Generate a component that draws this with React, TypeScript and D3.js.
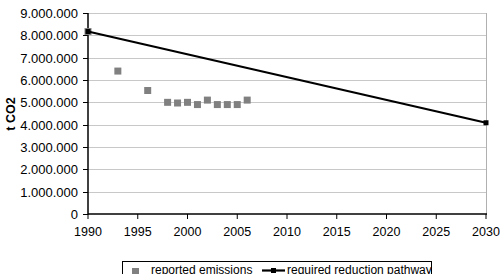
import React from 'react';
import * as d3 from 'd3';

// reported emissions (t CO2)
const reportedYears = [1990, 1993, 1996, 1998, 1999, 2000, 2001, 2002, 2003, 2004, 2005, 2006];
const reportedValues = [8170000, 6400000, 5530000, 5000000, 4970000, 5000000, 4900000, 5100000, 4900000, 4900000, 4900000, 5100000];

// required reduction pathway
const pathwayYears = [1990, 2030];
const pathwayValues = [8170000, 4085000];

const xTicks = [1990, 1995, 2000, 2005, 2010, 2015, 2020, 2025, 2030];
const yTicks = [0, 1000000, 2000000, 3000000, 4000000, 5000000, 6000000, 7000000, 8000000, 9000000];

const legendLabels = ['reported emissions', 'required reduction pathway'];

const fmt = (v: number) => d3.format(',')(v).replace(/,/g, '.');

export default function App() {
  const W = 500, H = 274;
  const left = 88, right = 486, top = 13, bottom = 214;

  const x = d3.scaleLinear().domain([1990, 2030]).range([left, right]);
  const y = d3.scaleLinear().domain([0, 9000000]).range([bottom, top]);

  const line = d3.line<number>()
    .x((_, i) => x(pathwayYears[i]))
    .y(d => y(d));

  const font = 'Liberation Sans, Arial, sans-serif';

  return (
    <svg width={W} height={H} style={{ position: 'absolute', left: 0, top: 0 }} fontFamily={font}>
      <rect x={0} y={0} width={W} height={H} fill="#fff" />
      {/* gridlines */}
      {yTicks.slice(1).map(t => (
        <line key={t} x1={left} x2={right} y1={Math.round(y(t)) + 0.5} y2={Math.round(y(t)) + 0.5} stroke="#c8c8c8" strokeWidth={1} />
      ))}
      {/* right border */}
      <line x1={right + 0.5} x2={right + 0.5} y1={top} y2={bottom} stroke="#b0b0b0" strokeWidth={1} />

      {/* y axis */}
      <line x1={left} x2={left} y1={top} y2={bottom + 0.5} stroke="#000" strokeWidth={1.5} />
      {yTicks.map(t => (
        <g key={t} transform={`translate(0, ${Math.round(y(t)) + 0.5})`}>
          <line x1={left - 5} x2={left} stroke="#000" strokeWidth={1} />
          <text x={78} dy="0.35em" textAnchor="end" fontSize={13} fill="#000">{fmt(t)}</text>
        </g>
      ))}
      <text transform={`translate(14.5, ${(top + bottom) / 2 + 0.5}) rotate(-90)`} textAnchor="middle" fontSize={12.5} fontWeight="bold" fill="#000">t CO2</text>

      {/* x axis */}
      <line x1={left} x2={right + 1} y1={bottom} y2={bottom} stroke="#000" strokeWidth={1.5} />
      {xTicks.map(t => (
        <g key={t} transform={`translate(${x(t)}, 0)`}>
          <line y1={bottom} y2={bottom + 5} stroke="#000" strokeWidth={1} />
          <text y={bottom + 22} textAnchor="middle" fontSize={12.5} fill="#000">{t}</text>
        </g>
      ))}

      {/* reported emissions */}
      {reportedYears.map((yr, i) => (
        <rect key={yr} x={x(yr) - 3.5} y={y(reportedValues[i]) - 3.5} width={7} height={7} fill="#808080" />
      ))}

      {/* pathway */}
      <path d={line(pathwayValues) || ''} fill="none" stroke="#000" strokeWidth={2.2} />
      {pathwayYears.map((yr, i) => (
        <rect key={yr} x={x(yr) - 2.5} y={y(pathwayValues[i]) - 2.5} width={5} height={5} fill="#000" />
      ))}

      {/* legend */}
      <rect x={122.5} y={261.5} width={309} height={20} fill="#fff" stroke="#000" strokeWidth={1} />
      <rect x={132} y={268} width={7} height={7} fill="#808080" />
      <text x={151} y={273.5} fontSize={12} fill="#000">{legendLabels[0]}</text>
      <line x1={262} x2={285} y1={270.5} y2={270.5} stroke="#000" strokeWidth={2.2} />
      <rect x={271} y={268} width={5} height={5} fill="#000" />
      <text x={287} y={273.5} fontSize={12} fill="#000">{legendLabels[1]}</text>
    </svg>
  );
}
